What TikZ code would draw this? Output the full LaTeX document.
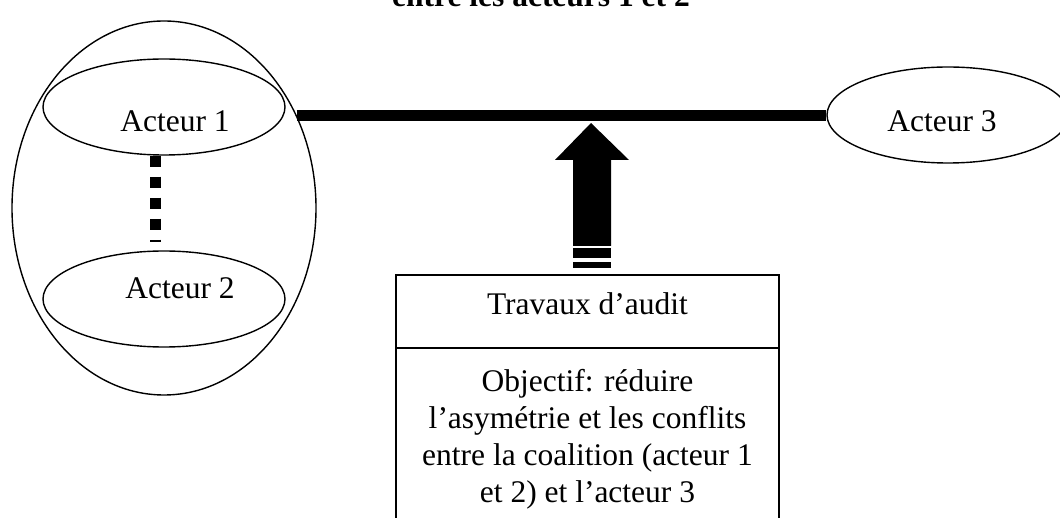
\documentclass[tikz,border=0pt]{standalone}
\usepackage{fontspec}
\setmainfont{Liberation Serif}
\usetikzlibrary{shapes.geometric}
\begin{document}
\begin{tikzpicture}[x=1pt,y=-1pt,
  actor/.style={draw,ellipse,line width=1.4pt,inner sep=0pt,minimum width=242pt,minimum height=96pt},
  coalition/.style={draw,ellipse,line width=1.4pt,inner sep=0pt,minimum width=304pt,minimum height=374pt},
  txt/.style={font=\fontsize{31.5}{37}\selectfont,inner sep=0pt,anchor=base},
  thickline/.style={line width=11pt},
  dotline/.style={line width=11pt,dash pattern=on 11pt off 10pt},
  boxline/.style={line width=1.8pt}]
\useasboundingbox (0,0) rectangle (1060,518);
% title (cut off at top)
\node[txt,font=\fontsize{31.5}{37}\selectfont\bfseries] (title) at (541,7) {entre les acteurs 1 et 2};
% coalition
\node[coalition] (coal) at (164,208) {};
\node[actor] (a1) at (164,107) {};
\node[actor] (a2) at (164,299) {};
\node[txt] (a1t) at (175,132) {Acteur 1};
\node[txt] (a2t) at (180,299) {Acteur 2};
% actor 3
\node[actor] (a3) at (948,115) {};
\node[txt] (a3t) at (942,132) {Acteur 3};
% connectors
\draw[dotline] ([xshift=-9pt]a1.south) -- ([xshift=-9pt,yshift=8pt]a2.north);
\draw[thickline] (coal.35) -- (coal.35 -| a3.west);
% box
\node[minimum width=383pt,minimum height=73pt,inner sep=0pt,outer sep=0pt,anchor=north west] (head) at (396,275) {};
\coordinate (boxbl) at (396,530);
\coordinate (boxbr) at (779,530);
\draw[boxline] (boxbl) -- (head.north west) -- (head.north east) -- (boxbr);
\draw[boxline] (head.south west) -- (head.south east);
\node[txt] (headt) at (587.5,315) {Travaux d’audit};
\node[txt,align=center,anchor=north] (obj) at (587.5,369) {Objectif: réduire\\l’asymétrie et les conflits\\entre la coalition (acteur 1\\et 2) et l’acteur 3};
% arrow
\coordinate (tip) at (591,123);
\fill (tip) -- (629,160) -- (611,160) -- (611,246) -- (573,246) -- (573,160) -- (555,160) -- cycle;
\fill (573,248) rectangle (611,258);
\fill (573,262) rectangle (611,268);
\end{tikzpicture}
\end{document}
